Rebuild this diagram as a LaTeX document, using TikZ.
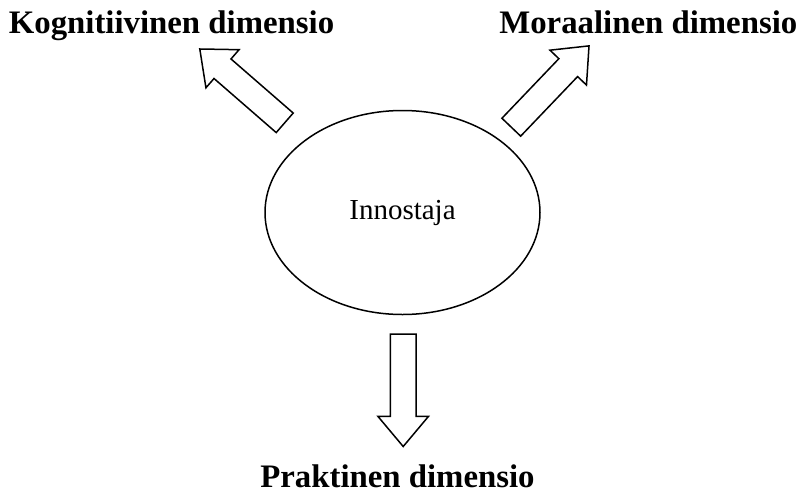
\documentclass[tikz,border=0pt]{standalone}
\usepackage{fontspec}
\setmainfont{Liberation Serif}
\usetikzlibrary{shapes.geometric,shapes.arrows}
\tikzset{
  blockarrow/.style={single arrow,draw=black,line width=1.5pt,inner xsep=0pt,inner ysep=12.2pt,
    single arrow head extend=12.3pt,single arrow tip angle=80,minimum height=112.5pt,anchor=tail,outer sep=0pt},
  dimlabel/.style={font=\fontsize{32.8}{38}\selectfont\bfseries,anchor=base,inner sep=0pt}
}

\begin{document}
\begin{tikzpicture}[x=1pt,y=-1pt]
  \useasboundingbox (0,0) rectangle (798,493);
  % the centre
  \node[ellipse,draw,line width=1.5pt,minimum width=275pt,minimum height=204pt,inner sep=0pt,
    font=\fontsize{29}{34}\selectfont] (innostaja) at (402.5,212.5) {Innostaja};
  % the three dimensions, with their block arrows
  \node[blockarrow,rotate=139] (arrowkog) at (284.7,122.8) {};
  \node[blockarrow,rotate=46.3] (arrowmor) at (511.3,127.2) {};
  \node[blockarrow,rotate=-90] (arrowpra) at (403.2,334) {};
  \node[dimlabel] (kognitiivinen) at (171.5,33) {Kognitiivinen dimensio};
  \node[dimlabel] (moraalinen) at (648.3,33) {Moraalinen dimensio};
  \node[dimlabel] (praktinen) at (397.5,487.7) {Praktinen dimensio};
\end{tikzpicture}
\end{document}
